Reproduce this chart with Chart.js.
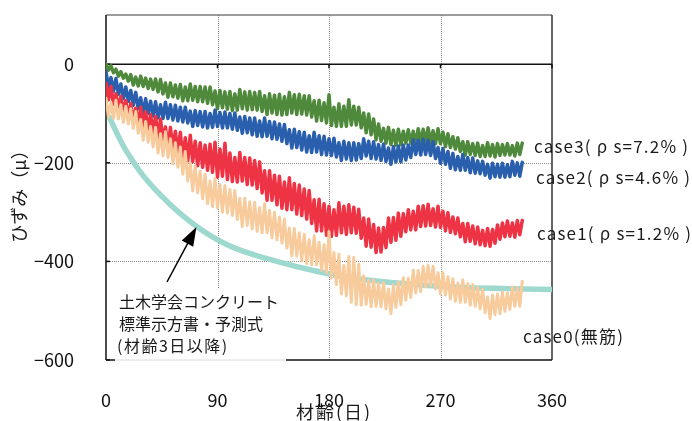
<!DOCTYPE html>
<html>
<head>
<meta charset="utf-8">
<script src="https://cdn.jsdelivr.net/npm/chart.js@4.4.1/dist/chart.umd.min.js"></script>
<style>
  html, body { margin: 0; padding: 0; background: #fff; }
  #wrap { width: 692px; height: 421px; }
</style>
</head>
<body>
<div id="wrap"><canvas id="hizumi" width="692" height="421"></canvas></div>
<script>
// 材齢(日) - 測定日
var days = [
  0, 2, 4, 6, 8, 10, 12, 14, 16, 18,
  20, 22, 24, 26, 28, 30, 32, 34, 36, 38,
  40, 42, 44, 46, 48, 50, 52, 54, 56, 58,
  60, 62, 64, 66, 68, 70, 72, 74, 76, 78,
  80, 82, 84, 86, 88, 90, 92, 94, 96, 98,
  100, 102, 104, 106, 108, 110, 112, 114, 116, 118,
  120, 122, 124, 126, 128, 130, 132, 134, 136, 138,
  140, 142, 144, 146, 148, 150, 152, 154, 156, 158,
  160, 162, 164, 166, 168, 170, 172, 174, 176, 178,
  180, 182, 184, 186, 188, 190, 192, 194, 196, 198,
  200, 202, 204, 206, 208, 210, 212, 214, 216, 218,
  220, 222, 224, 226, 228, 230, 232, 234, 236, 238,
  240, 242, 244, 246, 248, 250, 252, 254, 256, 258,
  260, 262, 264, 266, 268, 270, 272, 274, 276, 278,
  280, 282, 284, 286, 288, 290, 292, 294, 296, 298,
  300, 302, 304, 306, 308, 310, 312, 314, 316, 318,
  320, 322, 324, 326, 328, 330, 332, 334, 336
];

// case0 (無筋)
var case0 = [
  -69, -107, -77, -110, -73, -111, -82, -118, -85, -121,
  -90, -130, -96, -140, -112, -154, -116, -158, -126, -168,
  -128, -180, -141, -186, -137, -189, -151, -202, -159, -209,
  -168, -223, -177, -237, -200, -257, -206, -261, -217, -273,
  -223, -283, -237, -289, -232, -292, -244, -300, -246, -302,
  -254, -307, -256, -315, -272, -329, -272, -327, -279, -334,
  -280, -339, -291, -342, -283, -342, -296, -352, -300, -356,
  -310, -363, -314, -373, -332, -389, -333, -389, -342, -398,
  -345, -404, -356, -407, -348, -407, -361, -418, -366, -423,
  -340, -434, -382, -447, -385, -466, -408, -470, -390, -483,
  -392, -488, -405, -489, -429, -487, -438, -492, -437, -491,
  -444, -492, -443, -496, -456, -506, -448, -493, -442, -488,
  -433, -479, -434, -473, -418, -464, -418, -461, -410, -452,
  -408, -450, -410, -456, -423, -466, -423, -468, -431, -476,
  -435, -481, -444, -483, -437, -483, -445, -489, -447, -491,
  -453, -496, -457, -504, -472, -516, -468, -508, -466, -506,
  -462, -501, -464, -497, -452, -491, -454, -491, -440
];

// case1 (ρs=1.2%)
var case1 = [
  -39, -72, -45, -81, -60, -94, -65, -99, -74, -109,
  -79, -118, -89, -123, -87, -126, -97, -134, -102, -139,
  -106, -149, -111, -158, -127, -171, -128, -173, -136, -181,
  -138, -192, -149, -196, -144, -198, -156, -206, -159, -209,
  -164, -215, -162, -219, -158, -229, -172, -227, -160, -234,
  -180, -238, -189, -239, -179, -237, -189, -244, -190, -245,
  -195, -252, -198, -261, -216, -276, -216, -276, -225, -285,
  -227, -292, -239, -295, -230, -295, -242, -304, -245, -307,
  -253, -314, -256, -323, -275, -338, -274, -338, -283, -347,
  -288, -349, -295, -347, -281, -342, -288, -345, -285, -342,
  -290, -343, -294, -353, -312, -369, -314, -371, -325, -382,
  -332, -381, -331, -372, -312, -361, -311, -357, -302, -349,
  -303, -340, -295, -336, -298, -336, -288, -329, -287, -328,
  -284, -327, -293, -330, -288, -331, -298, -338, -301, -341,
  -310, -344, -312, -350, -323, -360, -323, -359, -328, -364,
  -330, -366, -337, -368, -333, -369, -335, -363, -326, -355,
  -322, -350, -318, -349, -322, -351, -317, -346, -317
];

// case2 (ρs=4.6%)
var case2 = [
  -15, -47, -27, -55, -29, -61, -40, -70, -46, -75,
  -53, -83, -57, -90, -68, -100, -70, -100, -75, -105,
  -76, -109, -82, -110, -77, -110, -82, -113, -83, -115,
  -87, -117, -87, -119, -95, -126, -94, -124, -96, -127,
  -96, -129, -100, -128, -93, -126, -98, -129, -97, -129,
  -100, -132, -99, -134, -107, -140, -106, -139, -109, -143,
  -109, -146, -115, -147, -109, -146, -116, -151, -117, -152,
  -121, -156, -122, -161, -133, -170, -132, -169, -137, -174,
  -138, -178, -145, -179, -138, -178, -145, -183, -146, -184,
  -151, -185, -150, -188, -159, -195, -156, -192, -159, -195,
  -159, -194, -161, -191, -151, -186, -156, -191, -157, -192,
  -163, -195, -162, -197, -170, -203, -167, -198, -166, -198,
  -164, -194, -164, -189, -153, -183, -154, -184, -152, -183,
  -154, -185, -157, -191, -169, -201, -171, -203, -177, -211,
  -181, -214, -187, -215, -183, -215, -189, -220, -190, -221,
  -196, -222, -197, -225, -203, -231, -201, -228, -203, -229,
  -201, -229, -204, -228, -197, -225, -200, -227, -199
];

// case3 (ρs=7.2%)
var case3 = [
  1, -12, -3, -17, -10, -24, -15, -28, -20, -34,
  -21, -42, -26, -44, -24, -45, -28, -49, -30, -51,
  -30, -56, -31, -60, -38, -67, -38, -66, -42, -69,
  -41, -74, -46, -74, -40, -73, -45, -76, -45, -76,
  -46, -79, -46, -82, -54, -90, -53, -88, -56, -91,
  -55, -94, -60, -93, -51, -90, -56, -93, -55, -92,
  -57, -93, -55, -96, -64, -102, -60, -99, -63, -102,
  -61, -103, -66, -102, -57, -99, -62, -102, -61, -101,
  -64, -103, -64, -107, -74, -115, -73, -114, -78, -119,
  -62, -124, -87, -126, -80, -126, -85, -126, -72, -123,
  -85, -123, -87, -129, -99, -139, -101, -143, -111, -153,
  -121, -156, -130, -160, -128, -163, -134, -164, -132, -163,
  -136, -160, -133, -160, -136, -162, -131, -158, -132, -158,
  -129, -159, -135, -161, -131, -161, -138, -167, -141, -169,
  -147, -172, -149, -177, -157, -184, -157, -183, -161, -185,
  -160, -187, -165, -187, -159, -186, -163, -188, -161, -185,
  -163, -184, -161, -184, -165, -186, -160, -183, -160
];

// 土木学会コンクリート標準示方書・予測式 (材齢3日以降)
var modelDays = [3, 6, 9, 12, 16, 20, 25, 30, 35, 40, 46, 52, 60, 71, 82, 93, 105, 119, 135, 150, 165, 181, 200, 220, 240, 260, 288, 320, 360];
var modelStrain = [-108, -125, -141, -156, -174, -190, -209, -226, -241, -255, -270, -285, -303, -325, -344, -360, -374, -386, -398, -408, -417, -426, -434, -440, -445, -449, -453, -455, -457];

var xTicks = [0, 90, 180, 270, 360];
var yTicks = [-600, -400, -200, 0];
var gridDays = [90, 180, 270];
var gridStrain = [-400, -200];

var FONT = "'Noto Sans CJK JP', 'Noto Sans', sans-serif";

function pts(xs, ys) {
    return xs.map(function(d, i) { return { x: d, y: ys[i] }; });
}

function line(ctx, x1, y1, x2, y2) {
    ctx.beginPath();
    ctx.moveTo(x1, y1);
    ctx.lineTo(x2, y2);
    ctx.stroke();
}

// 枠・目盛線・注記
var waku = {
    id: "waku",
    beforeDatasetsDraw: function(chart) {
        var ctx = chart.ctx, a = chart.chartArea;
        var x = chart.scales.x, y = chart.scales.y;
        ctx.save();
        ctx.lineWidth = 1;
        ctx.strokeStyle = "#8a8a8a";
        ctx.setLineDash([1, 1]);
        gridDays.forEach(function(d) {
            var px = Math.round(x.getPixelForValue(d)) + 0.5;
            line(ctx, px, a.top, px, a.bottom);
        });
        gridStrain.forEach(function(v) {
            var py = Math.round(y.getPixelForValue(v)) + 0.5;
            line(ctx, a.left, py, a.right, py);
        });
        ctx.setLineDash([]);
        // 上枠
        ctx.strokeStyle = "#7a7a7a";
        ctx.lineWidth = 1.5;
        line(ctx, a.left, a.top, a.right, a.top);
        // 右枠
        ctx.strokeStyle = "#333";
        line(ctx, a.right, a.top, a.right, a.bottom);
        // 0 の線
        ctx.strokeStyle = "#111";
        var p0 = y.getPixelForValue(0);
        line(ctx, a.left, p0, a.right, p0);
        gridDays.concat([360]).forEach(function(d) {
            var px = x.getPixelForValue(d);
            line(ctx, px, p0, px, p0 + 4);
        });
        // 左軸・下軸
        line(ctx, a.left, a.top, a.left, a.bottom);
        line(ctx, a.left, a.bottom, a.right, a.bottom);
        yTicks.forEach(function(v) {
            var py = y.getPixelForValue(v);
            line(ctx, a.left, py, a.left + 4, py);
        });
        ctx.restore();
    },
    afterDraw: function(chart) {
        var ctx = chart.ctx, a = chart.chartArea;
        var x = chart.scales.x, y = chart.scales.y;
        ctx.save();

        // 注記の白い箱
        ctx.fillStyle = "#fff";
        ctx.fillRect(115, 288, 171, 76);
        ctx.strokeStyle = "#dcdcdc";
        ctx.lineWidth = 1;
        line(ctx, 115, a.bottom, 286, a.bottom);

        // 矢印
        var tx = x.getPixelForValue(73), ty = y.getPixelForValue(-330);
        var sx = 167, sy = 282;
        var dx = tx - sx, dy = ty - sy, len = Math.sqrt(dx * dx + dy * dy);
        var ux = dx / len, uy = dy / len;
        ctx.strokeStyle = "#000";
        ctx.lineWidth = 1.5;
        line(ctx, sx, sy, tx - ux * 14, ty - uy * 14);
        ctx.fillStyle = "#000";
        ctx.beginPath();
        ctx.moveTo(tx, ty);
        ctx.lineTo(tx - ux * 19 + uy * 6.5, ty - uy * 19 - ux * 6.5);
        ctx.lineTo(tx - ux * 19 - uy * 6.5, ty - uy * 19 + ux * 6.5);
        ctx.closePath();
        ctx.fill();

        ctx.fillStyle = "#1a1a1a";
        ctx.textBaseline = "middle";
        ctx.textAlign = "left";
        ctx.font = "16px " + FONT;
        ctx.fillText("土木学会コンクリート", 119, 302);
        ctx.fillText("標準示方書・予測式", 119, 324);
        ctx.letterSpacing = "1.5px";
        ctx.fillText("(材齢3日以降)", 117, 346);

        // 系列名
        ctx.font = "17px " + FONT;
        ctx.letterSpacing = "1.2px";
        ctx.fillText("case3( ρ s=7.2% )", 534, 147);
        ctx.fillText("case2( ρ s=4.6% )", 536, 178);
        ctx.fillText("case1( ρ s=1.2% )", 537, 234);
        ctx.fillText("case0(無筋)", 523, 337);

        // 軸ラベル
        ctx.font = "18px " + FONT;
        ctx.textAlign = "center";
        ctx.letterSpacing = "2px";
        ctx.fillText("材齢(日)", 334, 412);
        ctx.letterSpacing = "0px";
        ctx.translate(19, 192);
        ctx.rotate(-Math.PI / 2);
        ctx.fillText("ひずみ（μ）", 0, 0);
        ctx.restore();
    }
};

var hizumiChart = document.querySelector("#hizumi");
var hizumi = new Chart(hizumiChart, {
    type: "line",
    data: {
        datasets: [{
            label: "case0(無筋)",
            data: pts(days, case0),
            borderColor: "#f8cb9d",
            borderWidth: 3
        }, {
            label: "case1",
            data: pts(days, case1),
            borderColor: "#ee3344"
        }, {
            label: "case2",
            data: pts(days, case2),
            borderColor: "#2a5fae"
        }, {
            label: "case3",
            data: pts(days, case3),
            borderColor: "#4f8a3c"
        }, {
            label: "予測式",
            data: pts(modelDays, modelStrain),
            borderColor: "#9ed9cf",
            borderWidth: 5.5,
            cubicInterpolationMode: "monotone"
        }]
    },
    options: {
        responsive: false,
        animation: false,
        events: [],
        elements: {
            point: { radius: 0 },
            line: { tension: 0, borderWidth: 3.5, borderJoinStyle: "round", borderCapStyle: "round" }
        },
        layout: { padding: { left: 0, right: 140, top: 15, bottom: 0 } },
        plugins: { legend: { display: false }, tooltip: { enabled: false } },
        scales: {
            x: {
                type: "linear",
                min: 0,
                max: 360,
                grid: { display: false },
                border: { display: false },
                afterBuildTicks: function(s) { s.ticks = xTicks.map(function(v) { return { value: v }; }); },
                afterFit: function(s) { s.height = 61; s.paddingLeft = 0; s.paddingRight = 0; },
                ticks: {
                    autoSkip: false,
                    maxRotation: 0,
                    padding: 21,
                    color: "#111",
                    font: { family: FONT, size: 18 }
                }
            },
            y: {
                min: -600,
                max: 100,
                grid: { display: false },
                border: { display: false },
                afterBuildTicks: function(s) { s.ticks = yTicks.map(function(v) { return { value: v }; }); },
                afterFit: function(s) { s.width = 106; s.paddingTop = 0; s.paddingBottom = 0; },
                ticks: {
                    padding: 24,
                    color: "#111",
                    font: { family: FONT, size: 18 },
                    callback: function(v) { return v < 0 ? "\u2212" + (-v) : String(v); }
                }
            }
        }
    },
    plugins: [waku]
});
</script>
</body>
</html>
